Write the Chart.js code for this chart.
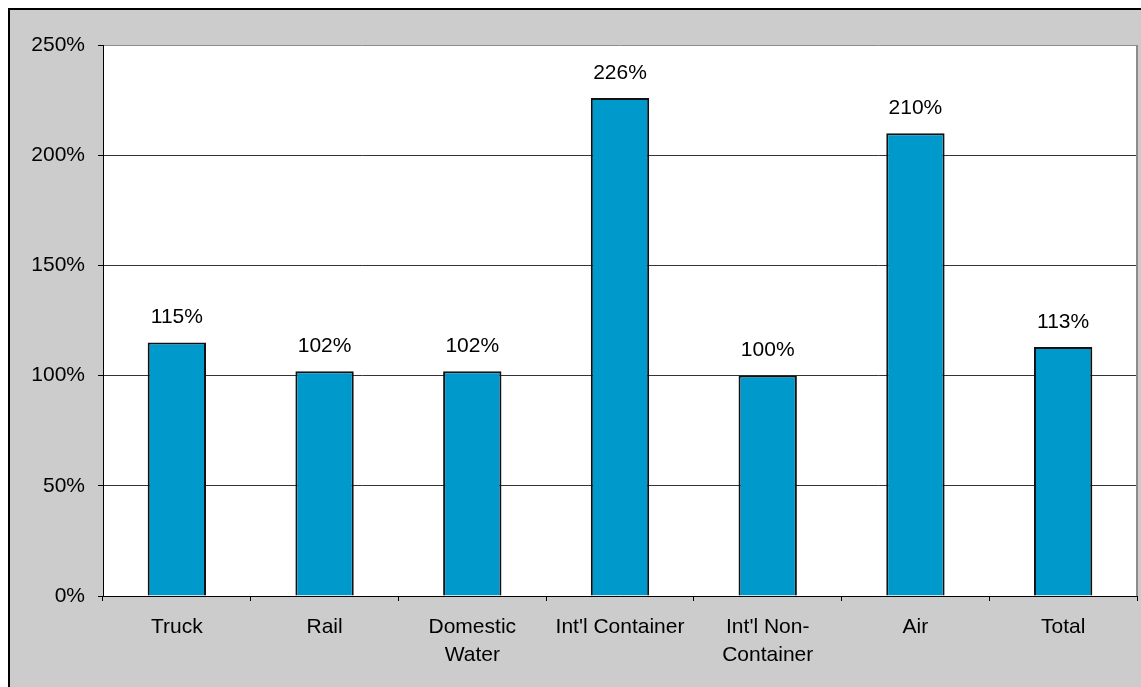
<!DOCTYPE html>
<html>
<head>
<meta charset="utf-8">
<script src="https://cdn.jsdelivr.net/npm/chart.js@4/dist/chart.umd.min.js"></script>
<style>
  html, body { margin: 0; padding: 0; background: #fff; }
  canvas { display: block; }
</style>
</head>
<body>
<canvas id="growthChart" width="1141" height="687"></canvas>
<script>
const modes = ['Truck', 'Rail', ['Domestic', 'Water'], "Int'l Container", ["Int'l Non-", 'Container'], 'Air', 'Total']
const growth = [115, 102, 102, 226, 100, 210, 113]
const yTicks = [0, 50, 100, 150, 200, 250]

const fontFamily = '"Liberation Sans", Arial, sans-serif'

// grey frame and white plot area behind the bars
const framePlugin = {
    id: 'frame',
    beforeDraw: (chart) => {
        const ctx = chart.ctx
        const { left, top, right, bottom } = chart.chartArea
        ctx.save()
        ctx.fillStyle = '#fff'
        ctx.fillRect(0, 0, chart.width, chart.height)
        ctx.fillStyle = '#cccccc'
        ctx.fillRect(9, 9, chart.width - 9, chart.height - 9)
        ctx.fillStyle = '#000'
        ctx.fillRect(9, 8, chart.width - 9, 2)
        ctx.fillRect(8, 8, 2, chart.height - 8)
        ctx.fillStyle = '#fff'
        ctx.fillRect(left, top, right - left, bottom - top)
        ctx.restore()
    },
    afterDraw: (chart) => {
        const ctx = chart.ctx
        const { left, top, right, bottom } = chart.chartArea
        ctx.save()
        ctx.strokeStyle = '#8c8c8c'
        ctx.lineWidth = 2
        ctx.beginPath()
        ctx.moveTo(right, top)
        ctx.lineTo(right, bottom)
        ctx.stroke()
        ctx.restore()
    }
}

// percentage above each bar
const valueLabels = {
    id: 'valueLabels',
    afterDatasetsDraw: (chart) => {
        const ctx = chart.ctx
        const meta = chart.getDatasetMeta(0)
        ctx.save()
        ctx.font = '21px ' + fontFamily
        ctx.fillStyle = '#000'
        ctx.textAlign = 'center'
        ctx.textBaseline = 'middle'
        meta.data.forEach((bar, i) => {
            ctx.fillText(growth[i] + '%', bar.x, bar.y - 25)
        })
        ctx.restore()
    }
}

const chart = new Chart(document.getElementById('growthChart'), {
    type: 'bar',
    data: {
        labels: modes,
        datasets: [{
            data: growth,
            backgroundColor: '#0099cc',
            borderColor: '#111',
            borderWidth: 2,
            barPercentage: 0.395,
            categoryPercentage: 1
        }]
    },
    options: {
        responsive: false,
        animation: false,
        layout: { padding: { left: 0, top: 45, right: 4, bottom: 0 } },
        plugins: {
            legend: { display: false },
            tooltip: { enabled: false }
        },
        scales: {
            x: {
                offset: true,
                grid: {
                    offset: true,
                    drawOnChartArea: false,
                    drawTicks: true,
                    tickLength: 5,
                    color: '#000'
                },
                border: { color: '#000', width: 1 },
                ticks: {
                    color: '#000',
                    padding: 12,
                    maxRotation: 0,
                    autoSkip: false,
                    font: { family: fontFamily, size: 21, lineHeight: 1.33 }
                },
                afterFit: (scale) => { scale.height = 91 }
            },
            y: {
                min: 0,
                max: 250,
                afterBuildTicks: (scale) => {
                    scale.ticks = yTicks.map(v => ({ value: v }))
                },
                grid: {
                    tickLength: 5,
                    color: (c) => c.tick && c.tick.value === 250 ? '#8c8c8c' : '#333',
                    tickColor: '#000'
                },
                border: { color: '#000', width: 1 },
                ticks: {
                    color: '#000',
                    padding: 13,
                    font: { family: fontFamily, size: 21 },
                    callback: (v) => v + '%'
                },
                afterFit: (scale) => { scale.width = 103 }
            }
        }
    },
    plugins: [framePlugin, valueLabels]
})
</script>
</body>
</html>
